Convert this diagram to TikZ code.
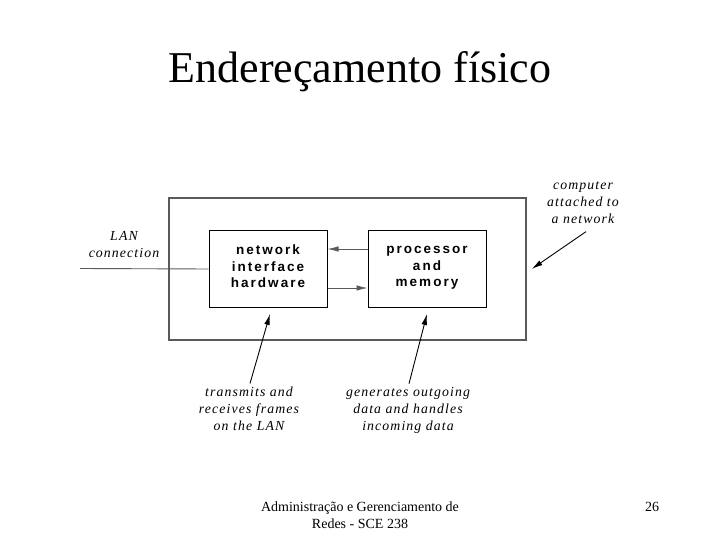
\documentclass[tikz,border=0pt]{standalone}
\usepackage{fontspec}
\setmainfont{Liberation Serif}
\newfontfamily\boxfont[LetterSpace=15]{Liberation Sans}
\newfontfamily\notefont[LetterSpace=8]{Liberation Serif}
\usetikzlibrary{arrows.meta, positioning, calc}
\definecolor{linegray}{RGB}{90, 90, 90}

\begin{document}
\begin{tikzpicture}[x=1pt, y=-1pt,
    unit/.style={draw=black, line width=1pt, minimum width=118pt, minimum height=77pt, inner sep=0pt, align=center, execute at begin node=\strut, execute at end node=\strut, font=\boxfont\bfseries\fontsize{13.5}{16.5}\selectfont},
    note/.style={align=center, inner sep=0pt, execute at begin node=\strut, execute at end node=\strut, font=\notefont\itshape\fontsize{13.8}{17}\selectfont},
    pointer/.style={-{Latex[length=11pt, width=5.5pt]}, line width=0.9pt}]
        \useasboundingbox (0,0) rectangle (720,540);
        
        % Title
        \node[font=\fontsize{44}{50}\selectfont] (title) at (360,72) {Endereçamento físico};
        
        % Computer (outer box) with its two units
        \node[draw=linegray, line width=1.4pt, minimum width=357pt, minimum height=142pt] (host) at (347.5,269) {};
        \node[unit] (nic) at (268,269) {network\\interface\\hardware};
        \node[unit] (proc) at (427,269) {processor\\and\\memory};
        \draw[pointer, linegray] ([yshift=20pt]proc.west) -- ([yshift=20pt]nic.east);
        \draw[pointer, linegray] ([yshift=-19pt]nic.east) -- ([yshift=-19pt]proc.west);
        
        % LAN connection
        \coordinate (lan) at (80,268.5);
        \draw[linegray, line width=0.9pt] (lan) -- (nic.west);
        \node[note] (lanlbl) at (124,247) {LAN\\connection};
        
        % Labels with arrows
        \node[note] (comp) at (583,205) {computer\\attached to\\a network};
        \draw[pointer] ([xshift=3pt, yshift=-3pt]comp.south) -- ([xshift=5pt]host.east);
        
        \node[note] (txrx) at (249,411) {transmits and\\receives frames\\on the LAN};
        \draw[pointer] ([xshift=1pt, yshift=3pt]txrx.north) -- ([xshift=2pt, yshift=-6pt]nic.south);
        
        \node[note] (gen) at (408,411) {generates outgoing\\data and handles\\incoming data};
        \draw[pointer] ([xshift=1pt, yshift=3pt]gen.north) -- ([yshift=-6pt]proc.south);
        
        % Footer
        \node[align=center, font=\fontsize{14}{17}\selectfont] (foot) at (360,515) {Administração e Gerenciamento de\\Redes - SCE 238};
        \node[font=\fontsize{14}{17}\selectfont] (page) at (652,507) {26};
    \end{tikzpicture}
\end{document}
